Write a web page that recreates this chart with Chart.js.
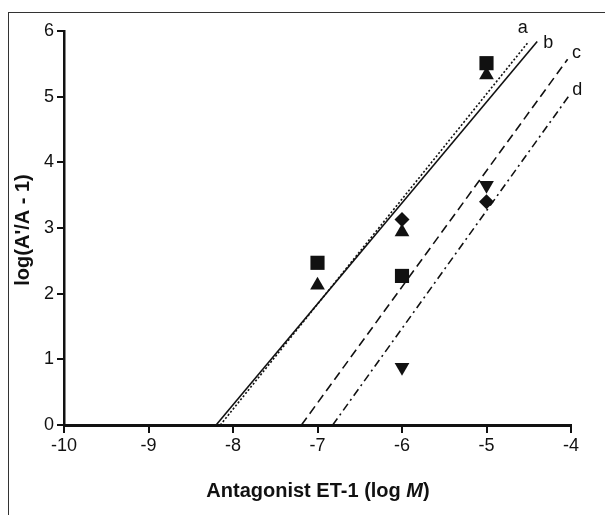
<!DOCTYPE html>
<html>
<head>
<meta charset="utf-8">
<script src="https://cdn.jsdelivr.net/npm/chart.js@4/dist/chart.umd.min.js"></script>
<style>
html,body{margin:0;padding:0;background:#fff}
#wrap{position:relative;width:605px;height:515px;overflow:hidden}
#frame{position:absolute;left:8px;top:12px;width:620px;height:520px;border-left:1px solid #333;border-top:1px solid #333}
#chart{position:absolute;left:0;top:0}
</style>
</head>
<body>
<div id="wrap"><div id="frame"></div><canvas id="chart" width="605" height="515"></canvas></div>
<script>

// tick values
const xTicks = [-10, -9, -8, -7, -6, -5, -4]
const yTicks = [0, 1, 2, 3, 4, 5, 6]

// measured points, log M against log(A'/A - 1)
const squareX = [-7, -6, -5]
const squareY = [2.47, 2.27, 5.51]
const triangleX = [-7, -6, -5]
const triangleY = [2.13, 2.94, 5.33]
const diamondX = [-6, -5]
const diamondY = [3.13, 3.40]
const invTriangleX = [-6, -5]
const invTriangleY = [0.88, 3.65]

// fitted lines a-d: start on the x axis, end point
const lineNames = ["a", "b", "c", "d"]
const lineStartX = [-8.15, -8.2, -7.19, -6.82]
const lineEndX = [-4.5, -4.4, -4.04, -4.02]
const lineEndY = [5.84, 5.84, 5.57, 5.02]

const lineDash = [[2, 2], [], [9, 5], [8, 4, 2, 4]]
const labelShift = [[-6, -13], [11, 2], [9, -6], [8, -5]]

const font = "'Liberation Sans', Arial, Helvetica, sans-serif"
const ink = "#111"

const pts = (xs, ys) => xs.map((x, i) => ({x: x, y: ys[i]}))

const markerSet = (data, style, r, rot) => ({
  data: data,
  pointStyle: style,
  pointRadius: r,
  pointRotation: rot || 0,
  backgroundColor: ink,
  borderColor: ink,
  borderWidth: 0,
  showLine: false
})

const datasets = lineNames.map((n, i) => ({
  label: n,
  data: [{x: lineStartX[i], y: 0}, {x: lineEndX[i], y: lineEndY[i]}],
  showLine: true,
  borderColor: ink,
  borderWidth: 1.6,
  borderDash: lineDash[i],
  pointRadius: 0,
  clip: false
}))

datasets.push(markerSet(pts(squareX, squareY), "rect", 10))
datasets.push(markerSet(pts(triangleX, triangleY), "triangle", 8.5))
datasets.push(markerSet(pts(diamondX, diamondY), "rectRot", 7.5))
datasets.push(markerSet(pts(invTriangleX, invTriangleY), "triangle", 8.5, 180))

const annotate = {
  id: "annotate",
  afterDraw(chart){
    const ctx = chart.ctx
    const xs = chart.scales.x
    const ys = chart.scales.y
    ctx.save()
    ctx.fillStyle = ink
    ctx.textAlign = "center"
    ctx.textBaseline = "middle"
    ctx.font = "18px " + font
    lineNames.forEach((n, i) => {
      const px = xs.getPixelForValue(lineEndX[i]) + labelShift[i][0]
      const py = ys.getPixelForValue(lineEndY[i]) + labelShift[i][1]
      ctx.fillText(n, px, py)
    })

    // x title with italic M
    const parts = [["Antagonist ET-1 (log ", "bold 20px "], ["M", "italic bold 20px "], [")", "bold 20px "]]
    let total = 0
    parts.forEach(p => { ctx.font = p[1] + font; total += ctx.measureText(p[0]).width })
    let cx = 318 - total / 2
    ctx.textAlign = "left"
    parts.forEach(p => {
      ctx.font = p[1] + font
      ctx.fillText(p[0], cx, 491)
      cx += ctx.measureText(p[0]).width
    })

    // y title
    ctx.translate(23, 230)
    ctx.rotate(-Math.PI / 2)
    ctx.textAlign = "center"
    ctx.font = "bold 20px " + font
    ctx.fillText("log(A'/A - 1)", 0, 0)
    ctx.restore()
  }
}

new Chart(document.getElementById("chart"), {
  type: "scatter",
  data: {datasets: datasets},
  options: {
    responsive: false,
    animation: false,
    layout: {padding: {left: 0, right: 34, top: 31, bottom: 0}},
    plugins: {legend: {display: false}, tooltip: {enabled: false}},
    scales: {
      x: {
        type: "linear",
        min: -10,
        max: -4,
        afterBuildTicks: s => { s.ticks = xTicks.map(v => ({value: v})) },
        afterFit: s => { s.height = 90 },
        grid: {display: true, drawOnChartArea: false, drawTicks: true, tickLength: 8, color: ink, lineWidth: 2},
        border: {display: true, color: ink, width: 3},
        ticks: {color: ink, font: {family: font, size: 18}, padding: 2, maxRotation: 0}
      },
      y: {
        type: "linear",
        min: 0,
        max: 6,
        afterBuildTicks: s => { s.ticks = yTicks.map(v => ({value: v})) },
        afterFit: s => { s.width = 64 },
        grid: {display: true, drawOnChartArea: false, drawTicks: true, tickLength: 7, color: ink, lineWidth: 2},
        border: {display: true, color: ink, width: 2.5},
        ticks: {color: ink, font: {family: font, size: 18}, padding: 3}
      }
    }
  },
  plugins: [annotate]
})

</script>
</body>
</html>
